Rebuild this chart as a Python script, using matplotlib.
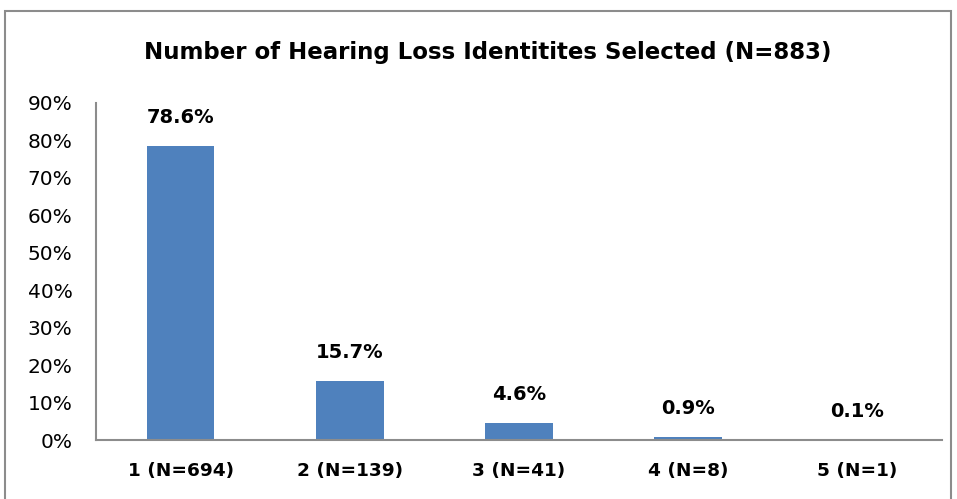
import matplotlib.pyplot as plt
from matplotlib.patches import Rectangle

categories = ['1 (N=694)', '2 (N=139)', '3 (N=41)', '4 (N=8)', '5 (N=1)']
percents = [78.6, 15.7, 4.6, 0.9, 0.1]
yticks = [0, 10, 20, 30, 40, 50, 60, 70, 80, 90]

plt.rcParams['font.family'] = ['DejaVu Sans']

fig = plt.figure(figsize=(9.57, 4.99), dpi=100)
ax = fig.add_axes([96 / 957, 59 / 499, 846 / 957, 337 / 499])

x = range(len(categories))
ax.bar(x, percents, width=0.4, color='#4F81BD')
for i, v in zip(x, percents):
    ax.text(i, v + 5.0, f'{v:.1f}%', ha='center', va='bottom',
            fontsize=14, fontweight='bold')

ax.set_xlim(-0.5, len(categories) - 0.5)
ax.set_ylim(0, 90)
ax.set_yticks(yticks)
ax.set_yticklabels([f'{t}%' for t in yticks], fontsize=14.5)
ax.set_xticks(list(x))
ax.set_xticklabels(categories, fontsize=13.3, fontweight='bold')
ax.tick_params(axis='y', length=0, pad=17)
ax.tick_params(axis='x', length=0, pad=16)

for s in ['top', 'right']:
    ax.spines[s].set_visible(False)
for s in ['left', 'bottom']:
    ax.spines[s].set_color('#8c8c8c')
    ax.spines[s].set_linewidth(1.5)

fig.text(488 / 957, 1 - 52 / 499, 'Number of Hearing Loss Identitites Selected (N=883)',
         ha='center', va='center', fontsize=16.5, fontweight='bold')

fig.patches.append(Rectangle((4.5 / 957, -0.05), 946 / 957, 1.05 - 10.5 / 499,
                             transform=fig.transFigure, fill=False,
                             edgecolor='#8c8c8c', linewidth=1.5))

fig.savefig('out.png', dpi=100)
